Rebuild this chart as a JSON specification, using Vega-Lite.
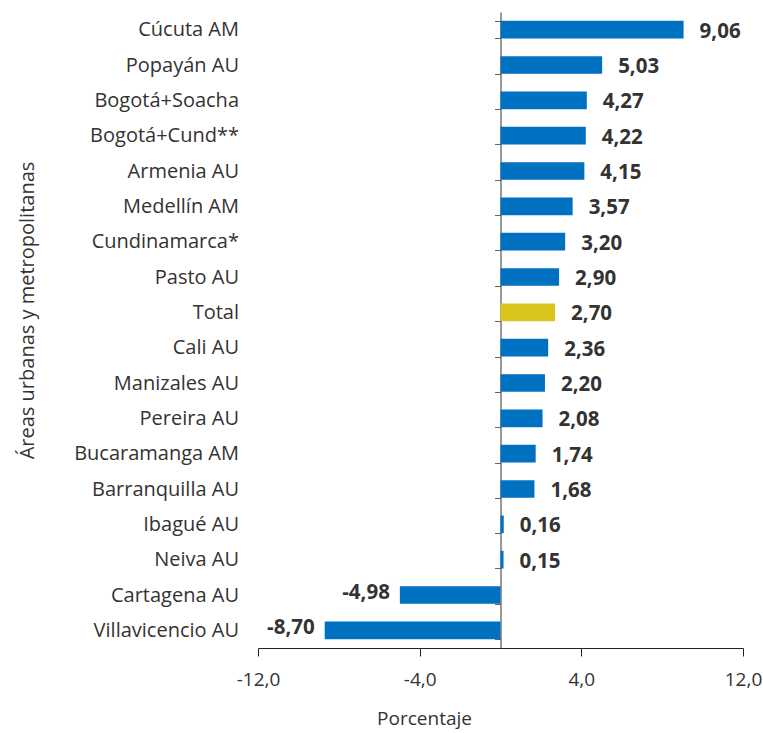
{
  "$schema": "https://vega.github.io/schema/vega-lite/v6.json",
  "width": 485,
  "height": 636,
  "autosize": {"type": "none"},
  "padding": {"left": 258, "top": 12, "right": 20, "bottom": 85},
  "background": "white",
  "config": {
    "view": {"stroke": null},
    "locale": {"number": {"decimal": ",", "thousands": ".", "grouping": [3], "currency": ["$", ""], "minus": "-"}}
  },
  "data": {
    "values": [
      {"area": "Cúcuta AM", "valor": 9.06, "tipo": "Área"},
      {"area": "Popayán AU", "valor": 5.03, "tipo": "Área"},
      {"area": "Bogotá+Soacha", "valor": 4.27, "tipo": "Área"},
      {"area": "Bogotá+Cund**", "valor": 4.22, "tipo": "Área"},
      {"area": "Armenia AU", "valor": 4.15, "tipo": "Área"},
      {"area": "Medellín AM", "valor": 3.57, "tipo": "Área"},
      {"area": "Cundinamarca*", "valor": 3.20, "tipo": "Área"},
      {"area": "Pasto AU", "valor": 2.90, "tipo": "Área"},
      {"area": "Total", "valor": 2.70, "tipo": "Total"},
      {"area": "Cali AU", "valor": 2.36, "tipo": "Área"},
      {"area": "Manizales AU", "valor": 2.20, "tipo": "Área"},
      {"area": "Pereira AU", "valor": 2.08, "tipo": "Área"},
      {"area": "Bucaramanga AM", "valor": 1.74, "tipo": "Área"},
      {"area": "Barranquilla AU", "valor": 1.68, "tipo": "Área"},
      {"area": "Ibagué AU", "valor": 0.16, "tipo": "Área"},
      {"area": "Neiva AU", "valor": 0.15, "tipo": "Área"},
      {"area": "Cartagena AU", "valor": -4.98, "tipo": "Área"},
      {"area": "Villavicencio AU", "valor": -8.70, "tipo": "Área"}
    ]
  },
  "encoding": {
    "y": {
      "field": "area",
      "type": "nominal",
      "sort": null,
      "scale": {"paddingInner": 0.5, "paddingOuter": 0.25},
      "axis": {
        "title": "Áreas urbanas y metropolitanas",
        "titleFont": "Open Sans",
        "titleFontSize": 20,
        "titleFontWeight": "normal",
        "titleColor": "#333333",
        "titleX": -473,
        "titleY": 298,
        "titleBaseline": "middle",
        "titleAngle": -90,
        "offset": -242.5,
        "domain": true,
        "domainColor": "#333333",
        "domainWidth": 1,
        "ticks": true,
        "tickBand": "extent",
        "tickSize": 6,
        "tickColor": "#666666",
        "labelPadding": 256,
        "labelFont": "Open Sans",
        "labelFontSize": 20,
        "labelColor": "#333333"
      }
    },
    "x": {
      "field": "valor",
      "type": "quantitative",
      "scale": {"domain": [-12, 12], "nice": false},
      "axis": {
        "values": [-12, -4, 4, 12],
        "format": ".1f",
        "grid": false,
        "domainColor": "#222222",
        "tickColor": "#222222",
        "tickSize": 8,
        "labelPadding": 14,
        "labelFlush": false,
        "labelFont": "Open Sans",
        "labelFontSize": 19,
        "labelColor": "#333333",
        "title": "Porcentaje",
        "titleFont": "Open Sans",
        "titleFontSize": 19,
        "titleFontWeight": "normal",
        "titleColor": "#333333",
        "titleX": 166,
        "titlePadding": 20
      }
    }
  },
  "layer": [
    {
      "mark": {"type": "bar"},
      "encoding": {
        "color": {
          "field": "tipo",
          "type": "nominal",
          "scale": {"domain": ["Área", "Total"], "range": ["#0070C0", "#DAC51D"]},
          "legend": null
        }
      }
    },
    {
      "transform": [{"filter": "datum.valor >= 0"}],
      "mark": {"type": "text", "align": "left", "dx": 16, "dy": 2, "font": "Open Sans", "fontSize": 20.5, "fontWeight": "bold", "color": "#333333"},
      "encoding": {"text": {"field": "valor", "type": "quantitative", "format": ".2f"}}
    },
    {
      "transform": [{"filter": "datum.valor < 0"}],
      "mark": {"type": "text", "align": "right", "dx": -10, "dy": -2, "font": "Open Sans", "fontSize": 20.5, "fontWeight": "bold", "color": "#333333"},
      "encoding": {"text": {"field": "valor", "type": "quantitative", "format": ".2f"}}
    }
  ]
}
